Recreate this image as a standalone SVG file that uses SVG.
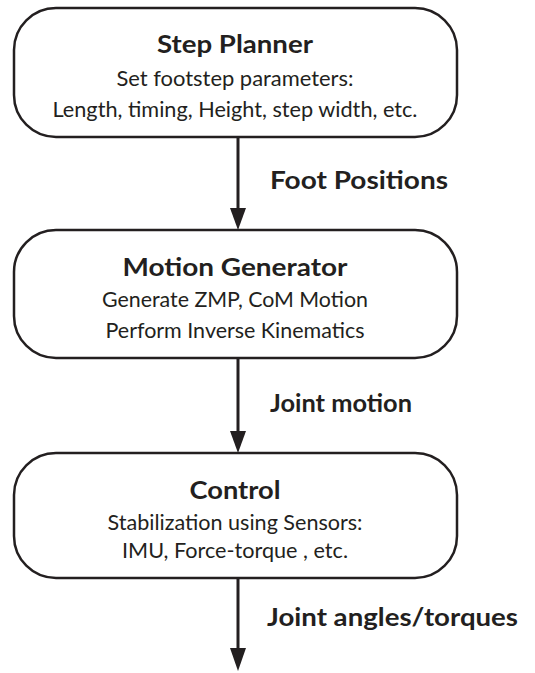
<svg xmlns="http://www.w3.org/2000/svg" width="535" height="673" viewBox="0 0 535 673">
<defs>
<style>
.box{fill:#fff;stroke:#231f20;stroke-width:2.5}
.title{font-family:Lato,"Open Sans","Liberation Sans",sans-serif;font-weight:bold;font-size:25.5px;fill:#231f20;text-anchor:middle}
.sub{font-family:Lato,"Open Sans","Liberation Sans",sans-serif;font-size:21px;fill:#231f20;text-anchor:middle}
.lbl{font-family:Lato,"Open Sans","Liberation Sans",sans-serif;font-weight:bold;font-size:25.5px;fill:#231f20}
.conn{stroke:#231f20;stroke-width:3;fill:none}
.head{fill:#231f20}
</style>
</defs>
<rect width="535" height="673" fill="#fff"/>
<g id="connectors">
<path class="conn" d="M238,137 V212"/><path class="head" d="M230,208 L246,208 L238,230 Z"/>
<path class="conn" d="M238,358 V436"/><path class="head" d="M230,431 L246,431 L238,453 Z"/>
<path class="conn" d="M238,578 V652"/><path class="head" d="M230,648 L246,648 L238,671 Z"/>
<text class="lbl" x="270" y="189" textLength="178" lengthAdjust="spacingAndGlyphs">Foot Positions</text>
<text class="lbl" x="270" y="412" textLength="142" lengthAdjust="spacingAndGlyphs">Joint motion</text>
<text class="lbl" x="267" y="626" textLength="251" lengthAdjust="spacingAndGlyphs">Joint angles/torques</text>
</g>
<g id="step-planner">
<rect class="box" x="14" y="8" width="443" height="129" rx="42"/>
<text class="title" x="235" y="53" textLength="156" lengthAdjust="spacingAndGlyphs">Step Planner</text>
<text class="sub" x="235" y="86" textLength="237" lengthAdjust="spacingAndGlyphs">Set footstep parameters:</text>
<text class="sub" x="235" y="117" textLength="365" lengthAdjust="spacingAndGlyphs">Length, timing, Height, step width, etc.</text>
</g>
<g id="motion-generator">
<rect class="box" x="14" y="230" width="443" height="128" rx="42"/>
<text class="title" x="235" y="276" textLength="225" lengthAdjust="spacingAndGlyphs">Motion Generator</text>
<text class="sub" x="235" y="307" textLength="266" lengthAdjust="spacingAndGlyphs">Generate ZMP, CoM Motion</text>
<text class="sub" x="235" y="338" textLength="259" lengthAdjust="spacingAndGlyphs">Perform Inverse Kinematics</text>
</g>
<g id="control">
<rect class="box" x="14" y="453" width="443" height="125" rx="42"/>
<text class="title" x="235" y="499" textLength="91" lengthAdjust="spacingAndGlyphs">Control</text>
<text class="sub" x="235" y="530" textLength="255" lengthAdjust="spacingAndGlyphs">Stabilization using Sensors:</text>
<text class="sub" x="235" y="558" textLength="226" lengthAdjust="spacingAndGlyphs">IMU, Force-torque , etc.</text>
</g>
</svg>
